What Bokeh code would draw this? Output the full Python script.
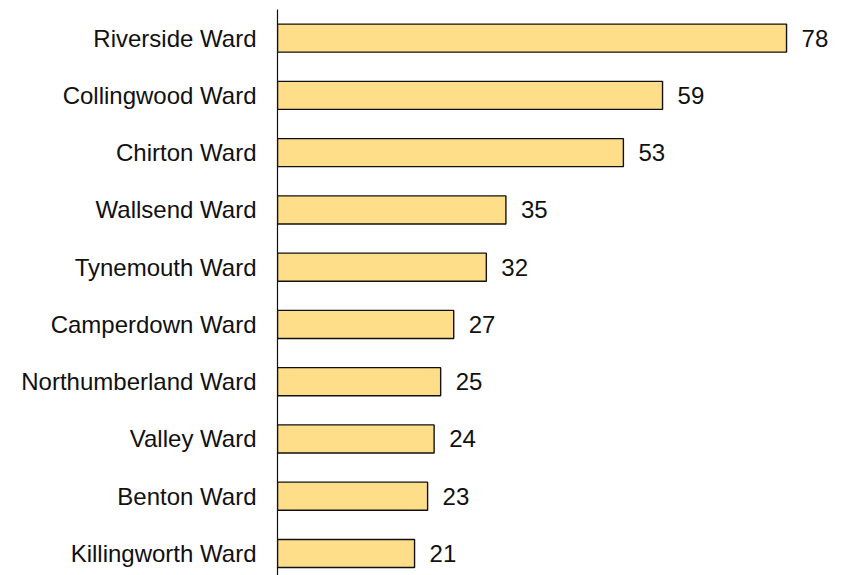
from bokeh.plotting import figure
from bokeh.models import Range1d, ColumnDataSource, LabelSet
from bokeh.core.properties import value
from bokeh.embed import file_html
from bokeh.resources import INLINE

wards = ["Riverside Ward", "Collingwood Ward", "Chirton Ward", "Wallsend Ward",
         "Tynemouth Ward", "Camperdown Ward", "Northumberland Ward", "Valley Ward",
         "Benton Ward", "Killingworth Ward"]
counts = [78, 59, 53, 35, 32, 27, 25, 24, 23, 21]

n = len(wards)
ypos = [n - 1 - i for i in range(n)]
src = ColumnDataSource(dict(y=ypos, v=counts, lab=[str(c) for c in counts]))

p = figure(width=850, height=575, output_backend="svg", toolbar_location=None,
           x_range=Range1d(0, 87.8), y_range=Range1d(-0.385, 9.5),
           min_border_left=277, min_border_right=0, min_border_top=9, min_border_bottom=0)
p.hbar(y="y", right="v", left=0, height=0.49, source=src,
       fill_color="#FFDE8A", line_color="#111111", line_width=1.4)
p.add_layout(LabelSet(x="v", y="y", text="lab", source=src, x_offset=15,
                      text_baseline="middle", text_font=value("Liberation Sans"),
                      text_font_size="24px", text_color="#111111"))

p.xaxis.visible = False
p.xgrid.visible = False
p.ygrid.visible = False
p.outline_line_color = None
ax = p.yaxis[0]
ax.ticker = ypos
ax.major_label_overrides = {y: w for y, w in zip(ypos, wards)}
ax.major_tick_line_color = None
ax.minor_tick_line_color = None
ax.major_label_standoff = 15
ax.major_label_text_font = "Liberation Sans"
ax.major_label_text_font_size = "24px"
ax.major_label_text_color = "#111111"
ax.axis_line_color = "#111111"
ax.axis_line_width = 1.2

open("out.html", "w").write(file_html(p, INLINE))
